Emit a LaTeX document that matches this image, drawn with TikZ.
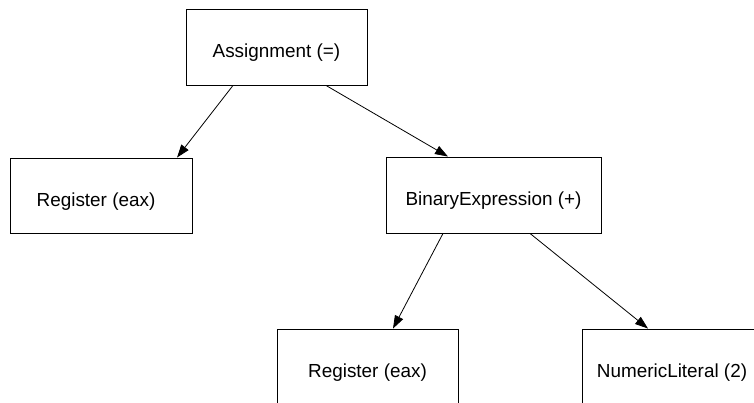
\documentclass[tikz,border=0pt]{standalone}
\usepackage{fontspec}
\setmainfont{Liberation Sans}
\usetikzlibrary{arrows.meta}
\newcommand{\lowtext}[1]{\raisebox{-6pt}[\height][\depth]{#1}}
\begin{document}
\begin{tikzpicture}[x=1pt,y=-1pt,
  treebox/.style={draw=black,line width=0.9pt,rectangle,inner sep=0pt,
    font=\fontsize{18.9}{22}\selectfont},
  edge/.style={draw=black,line width=0.8pt,-{Triangle[length=13pt,width=9pt]}}]
\useasboundingbox (0,0) rectangle (754,403);
\clip (0,0) rectangle (754,403);
\node[treebox,minimum width=181pt,minimum height=76pt] (a) at (276.5,47) {\lowtext{Assignment (=)}};
\node[treebox,minimum width=182pt,minimum height=75pt] (r1) at (101,195.5) {\hspace*{-5pt}\lowtext{Register (eax)}\hspace*{5pt}};
\node[treebox,minimum width=215pt,minimum height=76pt] (b) at (493.5,195) {\lowtext{BinaryExpression (+)}};
\node[treebox,minimum width=181pt,minimum height=76pt] (r2) at (367.5,367) {\lowtext{Register (eax)}};
\node[treebox,minimum width=180pt,minimum height=76pt] (n) at (672,367) {\lowtext{NumericLiteral (2)}};
\draw[edge] ([xshift=-43.5pt]a.south) -- ([xshift=76pt]r1.north);
\draw[edge] ([xshift=49.5pt]a.south) -- ([xshift=-45.5pt]b.north);
\draw[edge] ([xshift=-50.5pt]b.south) -- ([xshift=25.5pt]r2.north);
\draw[edge] ([xshift=36.5pt]b.south) -- ([xshift=-24pt]n.north);
\end{tikzpicture}
\end{document}
